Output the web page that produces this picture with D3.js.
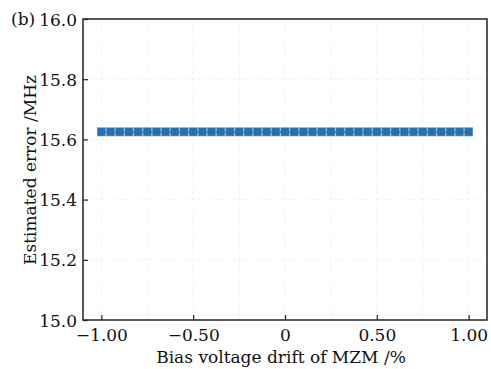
<!DOCTYPE html>
<html>
<head>
<meta charset="utf-8">
<script src="https://cdn.jsdelivr.net/npm/d3@7"></script>
<style>
  html, body { margin: 0; padding: 0; background: #fff; }
  svg text { font-family: "DejaVu Serif", serif; fill: #111; }
</style>
</head>
<body>
<svg id="chart" width="491" height="369"></svg>
<script>
// Bias voltage drift (%) and estimated frequency error (MHz)
const driftValues = d3.range(41).map(i => -1 + i * 0.05);
const errorValues = [
  15.625, 15.625, 15.625, 15.625, 15.625, 15.625, 15.625, 15.625, 15.625, 15.625,
  15.625, 15.625, 15.625, 15.625, 15.625, 15.625, 15.625, 15.625, 15.625, 15.625,
  15.625, 15.625, 15.625, 15.625, 15.625, 15.625, 15.625, 15.625, 15.625, 15.625,
  15.625, 15.625, 15.625, 15.625, 15.625, 15.625, 15.625, 15.625, 15.625, 15.625,
  15.625
];
const xTicks = [-1, -0.5, 0, 0.5, 1];
const xTickLabels = ["\u22121.00", "\u22120.50", "0", "0.50", "1.00"];
const yTicks = [15.0, 15.2, 15.4, 15.6, 15.8, 16.0];
const xGrid = d3.range(-1, 1.001, 0.25);

const svg = d3.select("#chart");
const margin = { left: 83, right: 4, top: 19, bottom: 49 };
const W = 491, H = 369;
const x = d3.scaleLinear().domain([-1.1, 1.1]).range([margin.left, W - margin.right]);
const y = d3.scaleLinear().domain([15.0, 16.0]).range([H - margin.bottom, margin.top]);
const FS = 17;

// faint grid
const grid = svg.append("g").attr("stroke", "#ececec").attr("stroke-width", 0.8)
  .attr("stroke-dasharray", "3,3");
grid.selectAll("line.v").data(xGrid).join("line")
  .attr("x1", d => x(d)).attr("x2", d => x(d))
  .attr("y1", y(15.0)).attr("y2", y(16.0));
grid.selectAll("line.h").data(yTicks.slice(1, -1)).join("line")
  .attr("y1", d => y(d)).attr("y2", d => y(d))
  .attr("x1", x(-1.1)).attr("x2", x(1.1));

// axes with inward ticks
const xAxis = d3.axisBottom(x).tickValues(xTicks)
  .tickFormat((d, i) => xTickLabels[i]).tickSizeInner(-5).tickSizeOuter(0).tickPadding(9);
const yAxis = d3.axisLeft(y).tickValues(yTicks)
  .tickFormat(d3.format(".1f")).tickSizeInner(-5).tickSizeOuter(0).tickPadding(6);

const gx = svg.append("g").attr("transform", `translate(0,${y(15.0)})`).call(xAxis);
const gy = svg.append("g").attr("transform", `translate(${x(-1.1)},0)`).call(yAxis);
[gx, gy].forEach(g => {
  g.attr("font-family", null);
  g.select(".domain").remove();
  g.selectAll(".tick line").attr("stroke", "#222").attr("stroke-width", 1.2);
  g.selectAll(".tick text").attr("font-size", FS).attr("fill", "#111");
});
gx.selectAll(".tick text").attr("dy", "0.71em");
gy.selectAll(".tick text").attr("dy", "0.36em");

// frame
svg.append("rect")
  .attr("x", x(-1.1)).attr("y", y(16.0))
  .attr("width", x(1.1) - x(-1.1)).attr("height", y(15.0) - y(16.0))
  .attr("fill", "none").attr("stroke", "#222").attr("stroke-width", 1.5);

// data series: line with square markers
const pts = driftValues.map((d, i) => [d, errorValues[i]]);
svg.append("path").datum(pts)
  .attr("fill", "none").attr("stroke", "#2a6fad").attr("stroke-width", 2)
  .attr("d", d3.line().x(d => x(d[0])).y(d => y(d[1])));
const ms = 8.2;
svg.selectAll("rect.m").data(pts).join("rect")
  .attr("class", "m")
  .attr("x", d => x(d[0]) - ms / 2).attr("y", d => y(d[1]) - ms / 2)
  .attr("width", ms).attr("height", ms)
  .attr("fill", "#2a6fad").attr("stroke", "#5d93c4").attr("stroke-width", 0.6);

// titles
svg.append("text").attr("x", 281).attr("y", 363)
  .attr("text-anchor", "middle").attr("font-size", FS)
  .text("Bias voltage drift of MZM /%");
svg.append("text")
  .attr("transform", `translate(36,170) rotate(-90)`)
  .attr("text-anchor", "middle").attr("font-size", FS)
  .text("Estimated error /MHz");
svg.append("text").attr("x", 11).attr("y", 25).attr("font-size", FS).text("(b)");
</script>
</body>
</html>
